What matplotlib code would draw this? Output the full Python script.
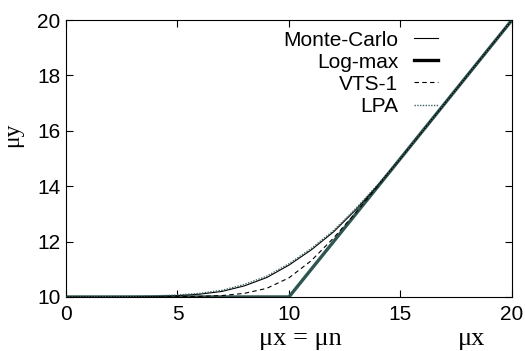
import numpy as np
import matplotlib.pyplot as plt

plt.rcParams['font.family'] = ['Liberation Sans', 'DejaVu Sans']

# valores
x = [0, 2, 4, 5, 6, 7, 8, 9, 10, 11, 12, 13, 14, 15, 16, 17, 18, 19, 20]
mc = [10.0, 10.0, 10.02, 10.05, 10.1, 10.2, 10.4, 10.7, 11.15, 11.7, 12.35,
      13.15, 14.05, 15.0, 16.0, 17.0, 18.0, 19.0, 20.0]
vts = [10.0, 10.0, 10.0, 10.01, 10.02, 10.05, 10.13, 10.31, 10.69, 11.31,
       12.13, 13.05, 14.02, 15.0, 16.0, 17.0, 18.0, 19.0, 20.0]
lpa = [10.0, 10.01, 10.04, 10.07, 10.13, 10.24, 10.45, 10.75, 11.2, 11.75,
       12.4, 13.2, 14.07, 15.0, 16.0, 17.0, 18.0, 19.0, 20.0]
x_lm = [0, 10, 20]
logmax = [10, 10, 20]

fig = plt.figure(figsize=(5.25, 3.51), dpi=100)
ax = fig.add_axes([0.1257, 0.154, 0.8495, 0.789])

ax.plot(x, mc, color='black', lw=0.8, label='Monte-Carlo', zorder=3)
ax.plot(x_lm, logmax, color='#2f5550', lw=2.4, label='Log-max', zorder=2)
ax.plot(x, vts, color='black', lw=0.8, ls=(0, (4, 3)), label='VTS-1', zorder=3)
ax.plot(x, lpa, color='#3a6262', lw=1.0, ls=(0, (1, 1)), label='LPA', zorder=3)

ax.set_xlim(0, 20)
ax.set_ylim(10, 20)
ax.set_xticks([0, 5, 10, 15, 20])
ax.set_yticks([10, 12, 14, 16, 18, 20])
ax.tick_params(direction='in', length=5, width=0.8, top=True, right=True,
               labelsize=15)
ax.tick_params(axis='x', pad=6)
ax.tick_params(axis='y', pad=4)
for s in ax.spines.values():
    s.set_linewidth(0.8)

ax.set_ylabel('μy', fontsize=17, family='Liberation Serif')
ax.yaxis.set_label_coords(-0.097, 0.585)
ax.text(10.5, -0.173, 'μx = μn', transform=ax.get_xaxis_transform(),
        ha='center', va='baseline', fontsize=19, family='Liberation Serif')
ax.text(18.2, -0.173, 'μx', transform=ax.get_xaxis_transform(),
        ha='center', va='baseline', fontsize=19, family='Liberation Serif')

leg = ax.legend(loc='upper right', bbox_to_anchor=(0.834, 0.962), frameon=False,
                markerfirst=False, fontsize=15, handlelength=1.15,
                handletextpad=0.75, labelspacing=0.15, borderaxespad=0,
                borderpad=0)
for t in leg.get_texts():
    t.set_ha('right')
leg.legend_handles[1].set_color('black')

fig.savefig('out.png', dpi=100)
